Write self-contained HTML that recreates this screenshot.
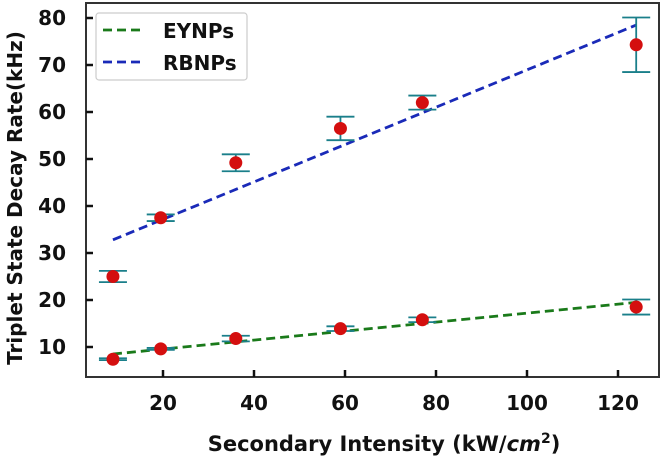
<!DOCTYPE html>
<html><head><meta charset="utf-8"><style>
body{margin:0;background:#fff;}
svg{display:block;font-family:"DejaVu Sans","Liberation Sans",sans-serif;font-weight:bold;}
</style></head><body>
<svg id="c" width="665" height="457"></svg>
<script>
const xs=[9,19.5,36,59,77,124];
const rbVals=[25,37.5,49.2,56.5,62,74.3];
const rbErr=[1.2,0.7,1.8,2.5,1.5,5.8];
const eyVals=[7.4,9.6,11.8,13.9,15.8,18.5];
const eyErr=[0.2,0.2,0.6,0.5,0.5,1.6];
const rbFit=[[9,32.8],[124,78.5]];
const eyFit=[[9,8.5],[124,19.5]];
const xTicks=[20,40,60,80,100,120];
const yTicks=[10,20,30,40,50,60,70,80];
const L=86,R=659,T=3,B=377;
const X=v=>72+v*4.55, Y=v=>394-v*4.7;
const s=document.getElementById('c');const NS='http://www.w3.org/2000/svg';
function mk(t,a,p){const e=document.createElementNS(NS,t);for(const k in a)e.setAttribute(k,a[k]);(p||s).appendChild(e);return e;}
let e=mk('rect',{x:L,y:T,width:R-L,height:B-T,fill:'none',stroke:'#333','stroke-width':2});

xTicks.forEach(v=>{mk('line',{x1:X(v),x2:X(v),y1:B,y2:B-7,stroke:'#111','stroke-width':2.5});
 const t=mk('text',{x:X(v),y:410,'text-anchor':'middle','font-size':20,fill:'#111'});t.textContent=v;
 });
yTicks.forEach(v=>{mk('line',{x1:L,x2:L+7,y1:Y(v),y2:Y(v),stroke:'#111','stroke-width':2.5});
 const t=mk('text',{x:L-20,y:Y(v)+7,'text-anchor':'end','font-size':20,fill:'#111'});t.textContent=v;
 });
function fit(f,c,n){const l=mk('line',{x1:X(f[0][0]),y1:Y(f[0][1]),x2:X(f[1][0]),y2:Y(f[1][1]),stroke:c,'stroke-width':2.8,'stroke-dasharray':'9,5'});
 }
function pts(vals,err,n){vals.forEach((v,i)=>{const x=X(xs[i]);
 mk('line',{x1:x,x2:x,y1:Y(v-err[i]),y2:Y(v+err[i]),stroke:'#1a7f8a','stroke-width':1.8});
 [v-err[i],v+err[i]].forEach(w=>mk('line',{x1:x-14,x2:x+14,y1:Y(w),y2:Y(w),stroke:'#1a7f8a','stroke-width':1.8}));
 const c=mk('circle',{cx:x,cy:Y(v),r:6.5,fill:'#d40f0f'});
 });}
fit(eyFit,'#1a7a1a','eynps-fit-line');fit(rbFit,'#1a2ab8','rbnps-fit-line');
pts(eyVals,eyErr,'eynps-point');pts(rbVals,rbErr,'rbnps-point');
const g=mk('g',{});
mk('rect',{x:96,y:13,width:151,height:67,rx:3,fill:'#fff',stroke:'#ccc','stroke-width':1.2},g);
[['EYNPs','#1a7a1a',30],['RBNPs','#1a2ab8',62]].forEach(([n,c,y])=>{
 mk('line',{x1:103,x2:143,y1:y,y2:y,stroke:c,'stroke-width':2.8,'stroke-dasharray':'9,5'},g);
 const t=mk('text',{x:163,y:y+8,'font-size':20,fill:'#111'},g);t.textContent=n;
 });
let t=mk('text',{x:384,y:451,'text-anchor':'middle','font-size':21,fill:'#111'});
t.innerHTML='Secondary Intensity (kW/<tspan font-style="italic">cm</tspan><tspan dy="-8" font-size="14">2</tspan><tspan dy="8">)</tspan>';

t=mk('text',{x:0,y:0,'text-anchor':'middle','font-size':20,fill:'#111',transform:'translate(22,198) rotate(-90)'});
t.textContent='Triplet State Decay Rate(kHz)';

</script>
</body></html>
